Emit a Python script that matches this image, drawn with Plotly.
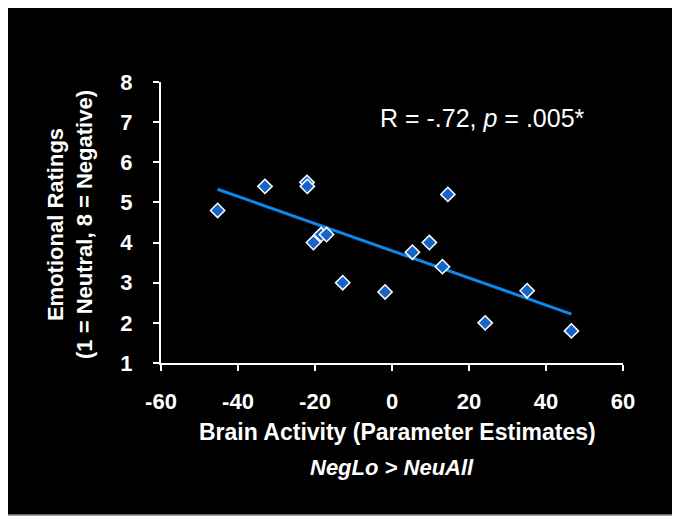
import numpy as np
import plotly.graph_objects as go

# Brain activity (parameter estimates), NegLo > NeuAll
brain_activity = [-45.3, -33.0, -22.1, -22.0, -20.4, -18.4, -17.0, -12.8,
                  -1.8, 5.3, 9.7, 13.1, 14.5, 24.2, 35.1, 46.6]
# Emotional ratings (1 = neutral, 8 = negative)
ratings = [4.8, 5.4, 5.5, 5.4, 4.0, 4.2, 4.2, 3.0,
           2.77, 3.76, 4.0, 3.4, 5.2, 2.0, 2.8, 1.8]

x_ticks = [-60, -40, -20, 0, 20, 40, 60]
x_labels = ['-60', '-40', '-20', '0', '20', '40', '60']
y_ticks = [1, 2, 3, 4, 5, 6, 7, 8]

# least squares fit line
slope, intercept = np.polyfit(brain_activity, ratings, 1)
fit_x = [min(brain_activity), max(brain_activity)]
fit_y = [slope * v + intercept for v in fit_x]

fig = go.Figure()

fig.add_trace(go.Scatter(
    x=fit_x, y=fit_y,
    mode='lines',
    line=dict(color='#0f86ea', width=3),
    showlegend=False,
    hoverinfo='skip'
))

fig.add_trace(go.Scatter(
    x=brain_activity, y=ratings,
    mode='markers',
    marker=dict(symbol='diamond', size=11, color='#1565c8',
                line=dict(color='white', width=1.5)),
    showlegend=False
))

FONT = 'Liberation Sans, Arial, sans-serif'
tick_font = dict(family=FONT, size=22, color='white', weight='bold')

# the page body has an 8px margin, so the plot is laid out 8px up/left
OFF = 8
L, R, T, B = 161 - OFF, 57 + OFF, 82 - OFF, 158 + OFF
PW, PH = 680 - L - R, 521 - T - B


def px_x(p):
    return (p - OFF - L) / PW


def px_y(p):
    return (521 - B - (p - OFF)) / PH


fig.update_xaxes(
    range=[-60, 60], tickvals=x_ticks, ticktext=x_labels,
    showgrid=False, zeroline=False,
    showline=True, linecolor='white', linewidth=2,
    ticks='outside', tickcolor='white', ticklen=6, tickwidth=2,
    tickfont=tick_font, ticklabelstandoff=12
)
fig.update_yaxes(
    range=[1, 8], tickvals=y_ticks,
    showgrid=False, zeroline=False,
    showline=True, linecolor='white', linewidth=2,
    ticks='outside', tickcolor='white', ticklen=6, tickwidth=2,
    tickfont=tick_font, ticklabelstandoff=16
)

# black panel with thin grey frame
fig.add_shape(type='rect', xref='paper', yref='paper',
              x0=px_x(3), x1=px_x(676), y0=px_y(515), y1=px_y(3),
              fillcolor='black', line=dict(color='#8a8a8a', width=1.5),
              layer='below')

fig.add_annotation(
    x=px_x(397), y=px_y(432), xref='paper', yref='paper',
    text='<b>Brain Activity (Parameter Estimates)</b>',
    showarrow=False, font=dict(family=FONT, size=23, color='white'),
    yanchor='middle'
)
fig.add_annotation(
    x=px_x(392), y=px_y(467), xref='paper', yref='paper',
    text='<b><i>NegLo > NeuAll</i></b>',
    showarrow=False, font=dict(family=FONT, size=22, color='white'),
    yanchor='middle'
)
fig.add_annotation(
    x=px_x(70), y=px_y(225), xref='paper', yref='paper',
    text='<b>Emotional Ratings<br>(1 = Neutral, 8 = Negative)</b>',
    textangle=-90, showarrow=False,
    font=dict(family=FONT, size=22, color='white'),
    xanchor='center', yanchor='middle'
)
fig.add_annotation(
    x=px_x(482), y=px_y(118), xref='paper', yref='paper',
    text='R = -.72, <i>p</i> = .005*',
    showarrow=False, font=dict(family=FONT, size=25, color='white'),
    xanchor='center', yanchor='middle'
)

fig.update_layout(
    width=680, height=521,
    margin=dict(l=L, r=R, t=T, b=B),
    paper_bgcolor='white',
    plot_bgcolor='rgba(0,0,0,0)',
    showlegend=False
)

fig.write_html("out.html")
